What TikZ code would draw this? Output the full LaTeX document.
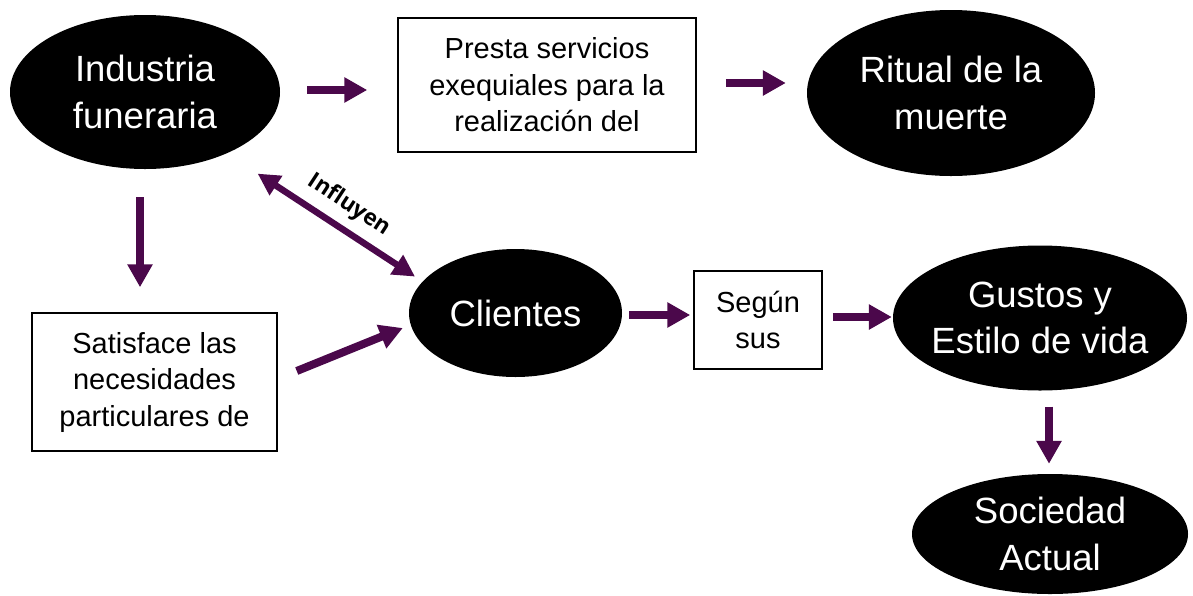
\documentclass[tikz,border=0pt]{standalone}
\usepackage{fontspec}
\setmainfont{Liberation Sans}
\newfontfamily\labfont{Open Sans}
\usetikzlibrary{shapes.geometric,arrows.meta,calc}
\definecolor{arrowpurple}{RGB}{75,8,75}
\tikzset{
  oval/.style={ellipse,fill=black,text=white,inner sep=0pt,align=center,
    font=\fontsize{36.5}{46.5}\selectfont},
  textbox/.style={rectangle,draw=black,line width=1.5pt,fill=white,inner sep=0pt,align=center,
    font=\fontsize{29}{36.5}\selectfont},
  arr/.style={draw=arrowpurple,line width=8pt,-{Triangle[length=23pt,width=24pt]}},
  dblarr/.style={draw=arrowpurple,line width=6.5pt,{Triangle[length=22pt,width=22pt]}-{Triangle[length=22pt,width=22pt]}},
  lab/.style={font=\labfont\bfseries\fontsize{22.5}{26}\selectfont,text=black},
}
\begin{document}
\begin{tikzpicture}[x=1pt,y=-1pt]
\useasboundingbox (0,0) rectangle (1193,595);
% nodes
\node[oval,minimum width=270pt,minimum height=154pt] (ind) at (145,92) {Industria\\funeraria};
\node[textbox,minimum width=298pt,minimum height=134pt] (presta) at (547,85) {Presta servicios\\exequiales para la\\realización del};
\node[oval,minimum width=288pt,minimum height=166pt] (ritual) at (951,93) {Ritual de la\\muerte};
\node[textbox,minimum width=245pt,minimum height=138pt] (sat) at (154.5,382) {Satisface las\\necesidades\\particulares de};
\node[oval,minimum width=213pt,minimum height=128pt] (cli) at (515.5,313) {Clientes};
\node[textbox,minimum width=128pt,minimum height=98pt] (segun) at (758,320) {Según\\sus};
\node[oval,inner xsep=-14pt,minimum width=294pt,minimum height=145pt] (gustos) at (1040,318) {Gustos y\\Estilo de vida};
\node[oval,minimum width=276pt,minimum height=120pt] (soc) at (1050,534) {Sociedad\\Actual};
% connectors
\draw[arr] ($(ind.east)+(27,-2)$) -- ($(presta.west)+(-30,5)$);
\draw[arr] ($(presta.east)+(29,-2)$) -- ($(ritual.west)+(-21,-10)$);
\draw[arr] ($(ind.south)+(-5,28)$) -- ($(sat.north)+(-14.5,-25)$);
\draw[arr] ($(sat.east)+(19,-11)$) -- ($(cli.west)+(-6,15)$);
\draw[arr] ($(cli.east)+(7,2)$) -- ($(segun.west)+(-3,-5)$);
\draw[arr] ($(segun.east)+(10,-3)$) -- ($(gustos.west)+(-1,-1)$);
\draw[arr] ($(gustos.south)+(9,16)$) -- ($(soc.north)+(-1,-10)$);
\draw[dblarr] ($(ind.south east)+(17,27)$) -- ($(cli.north west)+(-25,9)$)
  node[midway,sloped,anchor=south,inner sep=9pt,lab] (inf) {Influyen};
\end{tikzpicture}
\end{document}
